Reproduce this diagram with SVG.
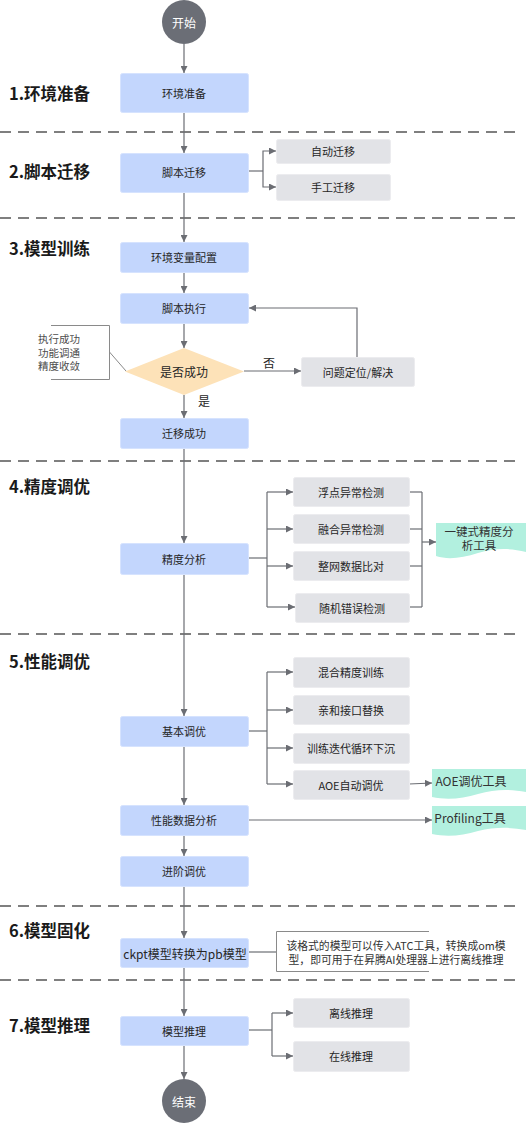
<svg xmlns="http://www.w3.org/2000/svg" width="526" height="1124" viewBox="0 0 526 1124">
<defs>
<marker id="ah" viewBox="0 0 10 10" refX="10" refY="5" markerWidth="7" markerHeight="7" markerUnits="userSpaceOnUse" orient="auto">
<path d="M0,0 L10,5 L0,10 z" fill="#6b6d73"/>
</marker>
<style>
text{font-family:"Noto Sans CJK SC","Noto Sans",sans-serif;}
.t{font-size:11px;fill:#262626;text-anchor:middle;dominant-baseline:central;}
.sec{font-size:16.5px;font-weight:bold;fill:#1a1a1a;}
.blue{fill:#c3d6fd;stroke:#d6e3fe;stroke-width:1;}
.gray{fill:#e2e3e7;stroke:#ececef;stroke-width:1;}
.doc{fill:#b2f0df;}
.ln{fill:none;stroke:#6b6d73;stroke-width:1.2;}
.ar{fill:none;stroke:#6b6d73;stroke-width:1.2;marker-end:url(#ah);}
.dash{stroke:#7f7f7f;stroke-width:2;stroke-dasharray:11 7;}
.note{fill:none;stroke:#8a8a8a;stroke-width:1;}
.nt{font-size:10.5px;fill:#4d4d4d;}
.circ{fill:#6b6e76;}
.ct{font-size:12px;fill:#ffffff;text-anchor:middle;dominant-baseline:central;}
</style>
</defs>
<rect width="526" height="1124" fill="#ffffff"/>

<g id="separators">
<line class="dash" x1="0" y1="132" x2="516" y2="132"/>
<line class="dash" x1="0" y1="218" x2="516" y2="218"/>
<line class="dash" x1="0" y1="461" x2="516" y2="461"/>
<line class="dash" x1="0" y1="634" x2="516" y2="634"/>
<line class="dash" x1="0" y1="906" x2="516" y2="906"/>
<line class="dash" x1="0" y1="980" x2="516" y2="980"/>
</g>

<g id="section-labels">
<text class="sec" x="9" y="100">1.环境准备</text>
<text class="sec" x="9" y="178">2.脚本迁移</text>
<text class="sec" x="9" y="255">3.模型训练</text>
<text class="sec" x="9" y="493">4.精度调优</text>
<text class="sec" x="9" y="668">5.性能调优</text>
<text class="sec" x="9" y="937">6.模型固化</text>
<text class="sec" x="9" y="1032">7.模型推理</text>
</g>

<g id="connectors">
<line class="ar" x1="184" y1="44" x2="184" y2="73"/>
<line class="ar" x1="184" y1="112" x2="184" y2="153"/>
<line class="ar" x1="184" y1="192" x2="184" y2="242"/>
<line class="ar" x1="184" y1="272" x2="184" y2="293"/>
<line class="ar" x1="184" y1="323" x2="184" y2="348"/>
<line class="ar" x1="184" y1="395" x2="184" y2="418"/>
<line class="ar" x1="184" y1="448" x2="184" y2="543"/>
<line class="ar" x1="184" y1="574" x2="184" y2="716"/>
<line class="ar" x1="184" y1="746" x2="184" y2="805"/>
<line class="ar" x1="184" y1="835" x2="184" y2="856"/>
<line class="ar" x1="184" y1="886" x2="184" y2="938"/>
<line class="ar" x1="184" y1="967" x2="184" y2="1016"/>
<line class="ar" x1="184" y1="1045" x2="184" y2="1079"/>
<polyline class="ln" points="249,171 263,171"/>
<polyline class="ar" points="263,171 263,151 276,151"/>
<polyline class="ar" points="263,171 263,187 276,187"/>
<line class="ar" x1="244" y1="371" x2="301" y2="371"/>
<polyline class="ar" points="357,357 357,308 249,308"/>
<polyline class="ln" points="249,558 267,558"/>
<line class="ln" x1="267" y1="492" x2="267" y2="607"/>
<line class="ar" x1="267" y1="492" x2="293" y2="492"/>
<line class="ar" x1="267" y1="529" x2="293" y2="529"/>
<line class="ar" x1="267" y1="566" x2="293" y2="566"/>
<line class="ar" x1="267" y1="607" x2="295" y2="607"/>
<polyline class="ln" points="409,492 422,492"/>
<polyline class="ln" points="409,529 422,529"/>
<polyline class="ln" points="409,566 422,566"/>
<polyline class="ln" points="409,607 422,607"/>
<line class="ln" x1="422" y1="492" x2="422" y2="607"/>
<line class="ar" x1="422" y1="542" x2="436" y2="542"/>
<polyline class="ln" points="249,731 267,731"/>
<line class="ln" x1="267" y1="672" x2="267" y2="784"/>
<line class="ar" x1="267" y1="672" x2="293" y2="672"/>
<line class="ar" x1="267" y1="710" x2="293" y2="710"/>
<line class="ar" x1="267" y1="748" x2="293" y2="748"/>
<line class="ar" x1="267" y1="784" x2="293" y2="784"/>
<line class="ar" x1="409" y1="784" x2="432" y2="783"/>
<line class="ar" x1="249" y1="820" x2="432" y2="820"/>
<line class="ln" x1="249" y1="952" x2="276" y2="952"/>
<polyline class="ln" points="249,1030 272,1030"/>
<line class="ln" x1="272" y1="1013" x2="272" y2="1056"/>
<line class="ar" x1="272" y1="1013" x2="293" y2="1013"/>
<line class="ar" x1="272" y1="1056" x2="293" y2="1056"/>
</g>

<g id="edge-labels">
<text class="t" x="269" y="362" style="font-size:12px">否</text>
<text class="t" x="204" y="400" style="font-size:12px">是</text>
</g>

<g id="start">
<circle class="circ" cx="184" cy="22" r="22"/>
<text class="ct" x="184" y="22">开始</text>
</g>

<g id="n-env"><rect class="blue" x="120.5" y="73.5" width="128" height="39" rx="2"/><text class="t" x="184" y="93">环境准备</text></g>
<g id="n-script"><rect class="blue" x="120.5" y="153.5" width="128" height="39" rx="2"/><text class="t" x="184" y="172">脚本迁移</text></g>
<g id="n-auto"><rect class="gray" x="276.5" y="139.5" width="114" height="24" rx="2"/><text class="t" x="333" y="151">自动迁移</text></g>
<g id="n-manual"><rect class="gray" x="276.5" y="174.5" width="114" height="26" rx="2"/><text class="t" x="333" y="187">手工迁移</text></g>

<g id="n-envvar"><rect class="blue" x="120.5" y="242.5" width="128" height="30" rx="2"/><text class="t" x="184" y="257">环境变量配置</text></g>
<g id="n-exec"><rect class="blue" x="120.5" y="293.5" width="128" height="30" rx="2"/><text class="t" x="184" y="308">脚本执行</text></g>
<g id="n-decision"><polygon points="184,348 244,371.5 184,395 125,371.5" fill="#fde2b8"/><text class="t" x="184" y="371" style="font-size:12px">是否成功</text></g>
<g id="n-fix"><rect class="gray" x="301.5" y="357.5" width="113" height="29" rx="2"/><text class="t" x="358" y="372">问题定位/解决</text></g>
<g id="n-note1">
<polyline class="note" points="51,325.5 109.5,325.5 109.5,379.5 51,379.5"/>
<line class="note" x1="109.5" y1="352" x2="126" y2="371"/>
<text class="nt" x="38" y="343">执行成功</text>
<text class="nt" x="38" y="356.5">功能调通</text>
<text class="nt" x="38" y="370">精度收敛</text>
</g>
<g id="n-success"><rect class="blue" x="120.5" y="418.5" width="128" height="30" rx="2"/><text class="t" x="184" y="433">迁移成功</text></g>

<g id="n-acc"><rect class="blue" x="120.5" y="543.5" width="128" height="31" rx="2"/><text class="t" x="184" y="559">精度分析</text></g>
<g id="n-float"><rect class="gray" x="293.5" y="477.5" width="116" height="29" rx="2"/><text class="t" x="351" y="492">浮点异常检测</text></g>
<g id="n-fuse"><rect class="gray" x="293.5" y="514.5" width="116" height="29" rx="2"/><text class="t" x="351" y="529">融合异常检测</text></g>
<g id="n-net"><rect class="gray" x="293.5" y="551.5" width="116" height="29" rx="2"/><text class="t" x="351" y="566">整网数据比对</text></g>
<g id="n-rand"><rect class="gray" x="295.5" y="593.5" width="114" height="29" rx="2"/><text class="t" x="352" y="608">随机错误检测</text></g>
<g id="n-acctool">
<path class="doc" d="M436,523 H526 V552 C510,548 495,548 478,553 C462,558 448,560 436,556 Z"/>
<text class="t" x="479" y="530.5" style="font-size:11.5px;fill:#333">一键式精度分</text>
<text class="t" x="479" y="545" style="font-size:11.5px;fill:#333">析工具</text>
</g>

<g id="n-basic"><rect class="blue" x="120.5" y="716.5" width="128" height="30" rx="2"/><text class="t" x="184" y="731">基本调优</text></g>
<g id="n-mixed"><rect class="gray" x="293.5" y="657.5" width="116" height="30" rx="2"/><text class="t" x="351" y="672">混合精度训练</text></g>
<g id="n-affinity"><rect class="gray" x="293.5" y="695.5" width="116" height="29" rx="2"/><text class="t" x="351" y="710">亲和接口替换</text></g>
<g id="n-sink"><rect class="gray" x="293.5" y="733.5" width="116" height="30" rx="2"/><text class="t" x="351" y="748">训练迭代循环下沉</text></g>
<g id="n-aoe"><rect class="gray" x="293.5" y="770.5" width="116" height="29" rx="2"/><text class="t" x="351" y="785">AOE自动调优</text></g>
<g id="n-aoetool">
<path class="doc" d="M432,769 H526 V792 C510,789 495,789 478,794 C462,799 446,800 432,797 Z"/>
<text class="t" x="471" y="780" style="font-size:12px;fill:#333">AOE调优工具</text>
</g>
<g id="n-perf"><rect class="blue" x="120.5" y="805.5" width="128" height="30" rx="2"/><text class="t" x="184" y="820">性能数据分析</text></g>
<g id="n-proftool">
<path class="doc" d="M432,806 H526 V830 C510,827 495,827 478,831 C462,836 446,837 432,834 Z"/>
<text class="t" x="470" y="817" style="font-size:12px;fill:#333">Profiling工具</text>
</g>
<g id="n-adv"><rect class="blue" x="120.5" y="856.5" width="128" height="30" rx="2"/><text class="t" x="184" y="871">进阶调优</text></g>

<g id="n-ckpt"><rect class="blue" x="120.5" y="938.5" width="128" height="29" rx="2"/><text class="t" x="185" y="953" style="font-size:12px">ckpt模型转换为pb模型</text></g>
<g id="n-note2">
<polyline class="note" points="429,931.5 276.5,931.5 276.5,971.5 429,971.5"/>
<text class="t" x="396" y="944.5" style="font-size:10.8px;fill:#333">该格式的模型可以传入ATC工具，转换成om模</text>
<text class="t" x="396" y="958.5" style="font-size:10.8px;fill:#333">型，即可用于在昇腾AI处理器上进行离线推理</text>
</g>

<g id="n-infer"><rect class="blue" x="120.5" y="1016.5" width="128" height="29" rx="2"/><text class="t" x="184" y="1031">模型推理</text></g>
<g id="n-offline"><rect class="gray" x="293.5" y="998.5" width="116" height="29" rx="2"/><text class="t" x="351" y="1013">离线推理</text></g>
<g id="n-online"><rect class="gray" x="293.5" y="1041.5" width="116" height="30" rx="2"/><text class="t" x="351" y="1056">在线推理</text></g>

<g id="end">
<circle class="circ" cx="184" cy="1101" r="22"/>
<text class="ct" x="184" y="1101">结束</text>
</g>
</svg>
